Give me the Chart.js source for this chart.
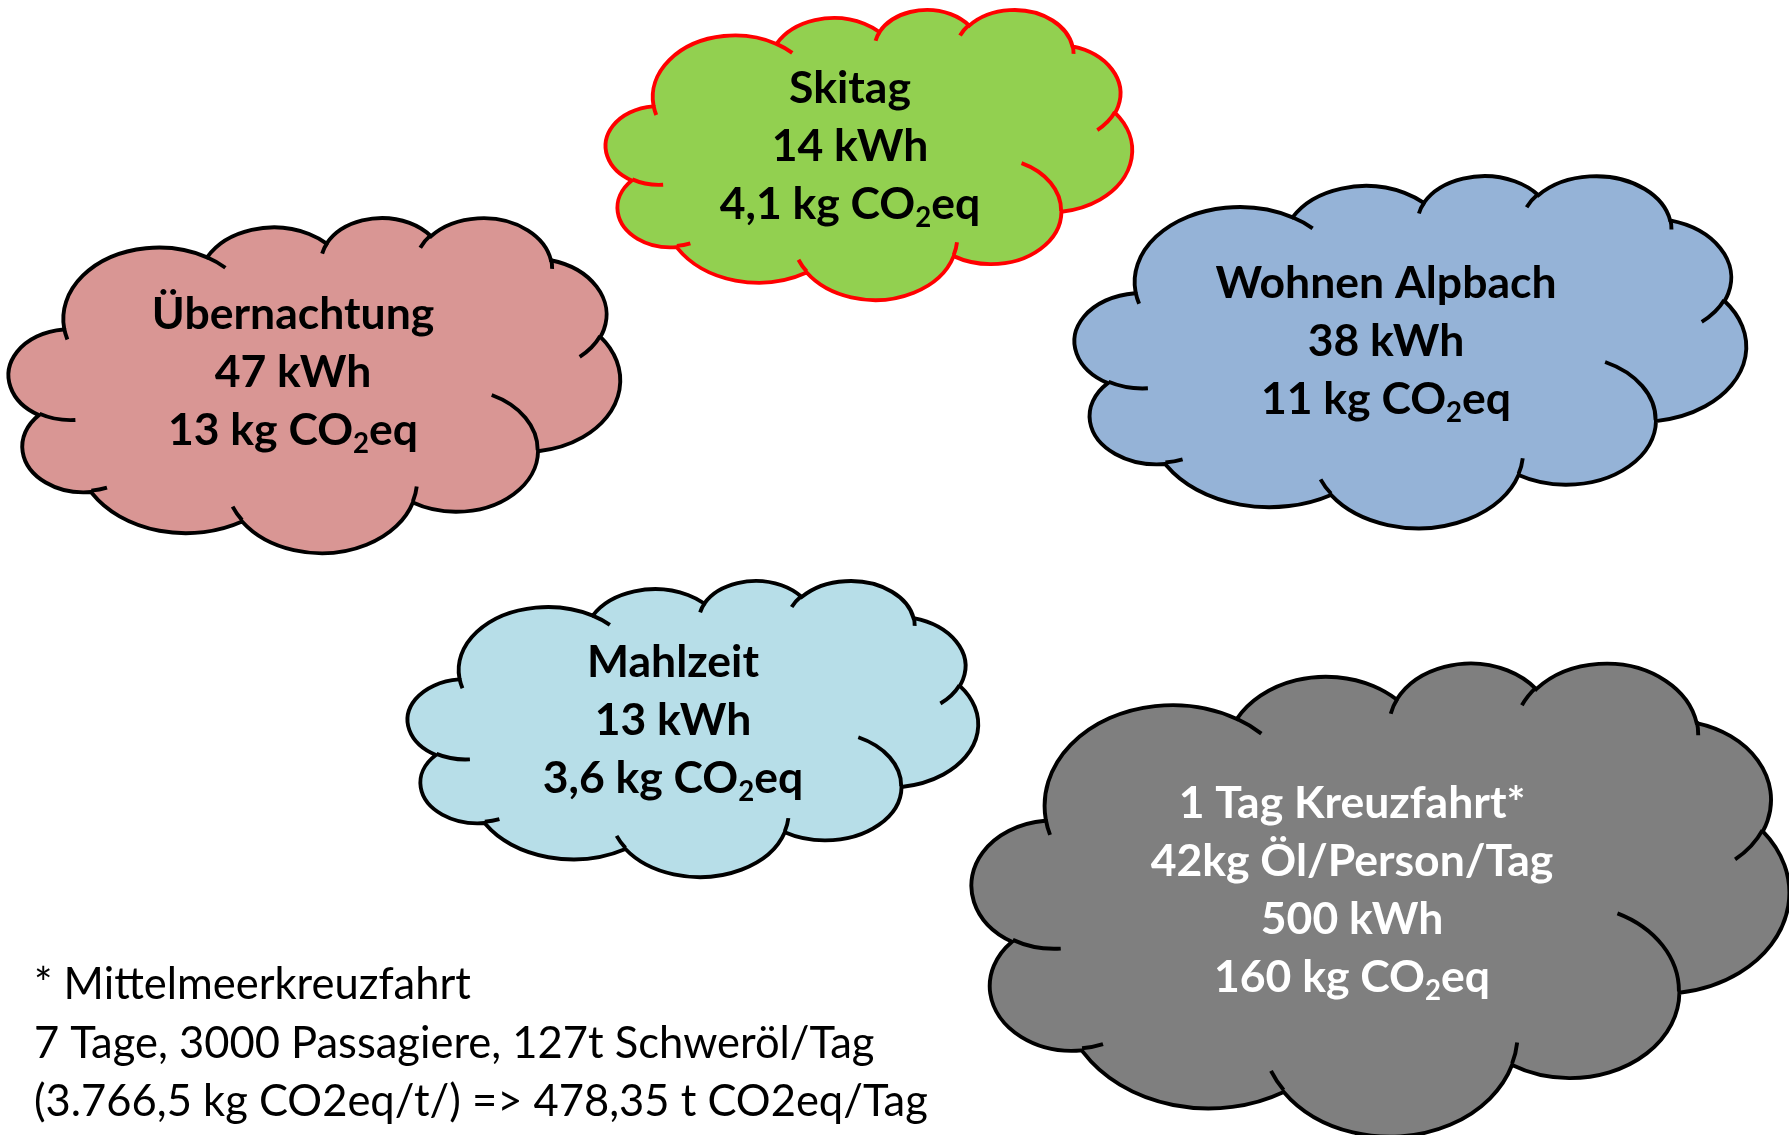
<!DOCTYPE html>
<html>
<head>
<meta charset="utf-8">
<script src="https://cdn.jsdelivr.net/npm/chart.js@4"></script>
<style>
  body { margin: 0; background: #fff; }
  #wrap { width: 1789px; height: 1135px; }
</style>
</head>
<body>
<div id="wrap"><canvas id="myChart"></canvas></div>
<script>
// values
const titles = ["Skitag", "Übernachtung", "Wohnen Alpbach", "Mahlzeit", "1 Tag Kreuzfahrt*"];
const extraLine = [null, null, null, null, "42kg Öl/Person/Tag"];
const energyKWh = [14, 47, 38, 13, 500];
const co2Kg = [4.1, 13, 11, 3.6, 160];
const footnote = [
  "* Mittelmeerkreuzfahrt",
  "7 Tage, 3000 Passagiere, 127t Schweröl/Tag",
  "(3.766,5 kg CO2eq/t/) => 478,35 t CO2eq/Tag"
];

// layout (in scale units = px of the 1789x1135 picture)
const boxes = [
  [606, 9, 1132, 299],
  [9, 217, 620, 552],
  [1075, 175, 1746, 527],
  [408, 580, 978, 876],
  [972, 662, 1789, 1135]
];
const textPos = [[850, 89], [293, 315], [1386, 284], [673, 663], [1352, 804]];
const fills = ["#92D050", "#D99694", "#95B3D7", "#B7DEE8", "#7F7F7F"];
const strokes = ["#FF0000", "#000000", "#000000", "#000000", "#000000"];
const textColors = ["#000", "#000", "#000", "#000", "#fff"];

// office "cloud" preset geometry, 43200 x 43200
const cloudOutline = [
  ["M", 3900, 14370],
  ["A", 6753, 9190, -11429249, 7426832],
  ["A", 5333, 7267, -8646143, 5396714],
  ["A", 4365, 5945, -8748475, 5983381],
  ["A", 4857, 6595, -7859164, 7034504],
  ["A", 5333, 7273, -4722533, 6541615],
  ["A", 6775, 9220, -2776035, 7816140],
  ["A", 5785, 7867, 37501, 6842000],
  ["A", 6752, 9215, 1347096, 6910353],
  ["A", 7720, 10543, 3974558, 4542661],
  ["A", 4360, 5918, -16496525, 8804134],
  ["A", 4345, 5945, -14809710, 9151131]
];
const cloudCreases = [
  ["M", 4693, 26177], ["A", 4345, 5945, 5204520, 1585770],
  ["M", 6928, 34899], ["A", 4360, 5918, 4416628, 686848],
  ["M", 16478, 39090], ["A", 6752, 9215, 8257449, 844866],
  ["M", 28827, 34751], ["A", 6752, 9215, 387196, 959901],
  ["M", 34129, 22954], ["A", 5785, 7867, -4217541, 4255042],
  ["M", 41798, 15354], ["A", 5333, 7273, 1819082, 1665090],
  ["M", 38324, 5426], ["A", 4857, 6595, -824660, 891534],
  ["M", 29078, 3952], ["A", 4857, 6595, -8950887, 1091722],
  ["M", 22141, 4720], ["A", 4365, 5945, -9809656, 1061181],
  ["M", 14000, 5192], ["A", 6753, 9190, -4002417, 739161],
  ["M", 4127, 15789], ["A", 6753, 9190, 9459261, 711490]
];

function paramAngle(a, wR, hR) {
  let t = Math.atan2(wR * Math.sin(a), hR * Math.cos(a));
  let d = t - a;
  while (d > Math.PI) d -= 2 * Math.PI;
  while (d < -Math.PI) d += 2 * Math.PI;
  return a + d;
}

function tracePath(ctx, cmds, x0, y0, W, H, close) {
  const sx = W / 43200, sy = H / 43200;
  let px = 0, py = 0;
  ctx.beginPath();
  cmds.forEach((c) => {
    if (c[0] == "M") {
      px = c[1]; py = c[2];
      ctx.moveTo(x0 + px * sx, y0 + py * sy);
    } else {
      const wR = c[1], hR = c[2];
      const a1 = c[3] / 60000 * Math.PI / 180;
      const a2 = (c[3] + c[4]) / 60000 * Math.PI / 180;
      const t1 = paramAngle(a1, wR, hR), t2 = paramAngle(a2, wR, hR);
      const ecx = px - wR * Math.cos(t1), ecy = py - hR * Math.sin(t1);
      ctx.ellipse(x0 + ecx * sx, y0 + ecy * sy, wR * sx, hR * sy, 0, t1, t2, c[4] < 0);
      px = ecx + wR * Math.cos(t2);
      py = ecy + hR * Math.sin(t2);
    }
  });
  if (close) ctx.closePath();
}

const fontFam = "Lato, 'Open Sans', sans-serif";
const fmt = (v) => v.toString().replace(".", ",");

// draws "xx kg CO₂eq" with a real subscript
function drawCO2(ctx, value, x, y, size, color) {
  const parts = [
    { t: fmt(value) + " kg CO", s: size, dy: 0 },
    { t: "2", s: size * 0.62, dy: size * 0.3 },
    { t: "eq", s: size, dy: 0 }
  ];
  let total = 0;
  parts.forEach((p) => { ctx.font = "bold " + p.s + "px " + fontFam; p.w = ctx.measureText(p.t).width; total += p.w; });
  let cx = x - total / 2;
  ctx.textAlign = "left";
  ctx.fillStyle = color;
  parts.forEach((p) => {
    ctx.font = "bold " + p.s + "px " + fontFam;
    ctx.fillText(p.t, cx, y + p.dy);
    cx += p.w;
  });
}

const cloudPlugin = {
  id: "clouds",
  afterDatasetsDraw(chart) {
    const ctx = chart.ctx;
    const xs = chart.scales.x, ys = chart.scales.y;
    const fontSize = 44.5, lineGap = 58;
    ctx.save();
    boxes.forEach((b, i) => {
      const x0 = xs.getPixelForValue(b[0]), y0 = ys.getPixelForValue(b[1]);
      const W = xs.getPixelForValue(b[2]) - x0, H = ys.getPixelForValue(b[3]) - y0;
      ctx.lineWidth = 3.9;
      ctx.strokeStyle = strokes[i];
      ctx.fillStyle = fills[i];
      tracePath(ctx, cloudOutline, x0, y0, W, H, true);
      ctx.fill();
      ctx.stroke();
      tracePath(ctx, cloudCreases, x0, y0, W, H, false);
      ctx.stroke();

      const tx = xs.getPixelForValue(textPos[i][0]);
      let ty = ys.getPixelForValue(textPos[i][1]);
      const lines = [titles[i]];
      if (extraLine[i]) lines.push(extraLine[i]);
      lines.push(energyKWh[i] + " kWh");
      ctx.textBaseline = "middle";
      lines.forEach((l) => {
        ctx.font = "bold " + fontSize + "px " + fontFam;
        ctx.textAlign = "center";
        ctx.fillStyle = textColors[i];
        ctx.fillText(l, tx, ty);
        ty += lineGap;
      });
      drawCO2(ctx, co2Kg[i], tx, ty, fontSize, textColors[i]);
    });

    ctx.font = "43.5px " + fontFam;
    ctx.fillStyle = "#000";
    ctx.textAlign = "left";
    ctx.textBaseline = "middle";
    footnote.forEach((l, k) => {
      ctx.fillText(l, xs.getPixelForValue(34), ys.getPixelForValue(985 + k * 58.5));
    });
    ctx.restore();
  }
};

const ctx = document.getElementById("myChart");
new Chart(ctx, {
  type: "scatter",
  data: {
    datasets: [{
      label: "Wolken",
      data: boxes.map((b) => ({ x: (b[0] + b[2]) / 2, y: (b[1] + b[3]) / 2 })),
      pointRadius: 0
    }]
  },
  options: {
    responsive: true,
    maintainAspectRatio: false,
    animation: false,
    layout: { padding: 0 },
    plugins: { legend: { display: false }, tooltip: { enabled: false } },
    scales: {
      x: { type: "linear", min: 0, max: 1789, display: false },
      y: { type: "linear", min: 0, max: 1135, reverse: true, display: false }
    }
  },
  plugins: [cloudPlugin]
});
</script>
</body>
</html>
